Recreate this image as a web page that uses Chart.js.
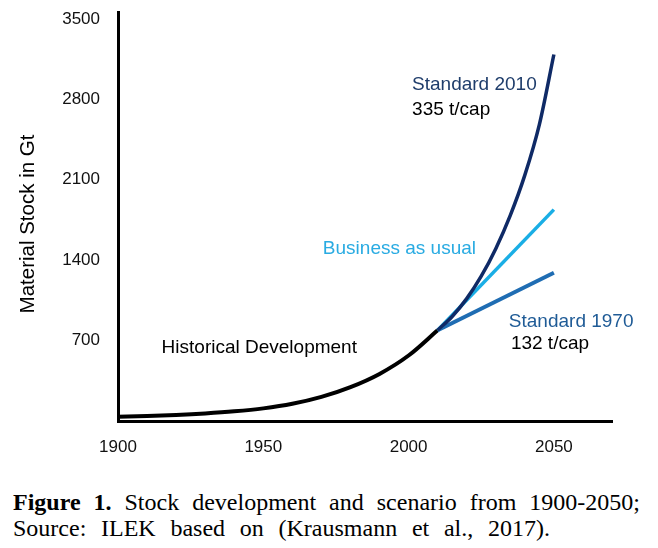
<!DOCTYPE html>
<html>
<head>
<meta charset="utf-8">
<script src="https://cdn.jsdelivr.net/npm/chart.js@4"></script>
<style>
  body { margin: 0; background: #fff; width: 658px; height: 548px; position: relative; overflow: hidden; }
  #wrap { position: absolute; left: 0; top: 0; width: 658px; height: 460px; }
  .cap { position: absolute; left: 13px; font-family: "Liberation Serif", "Times New Roman", serif; font-size: 24px; line-height: 26px; color: #000; text-align: justify; text-align-last: justify; white-space: nowrap; }
  #cap1 { top: 489px; width: 627px; }
  #cap2 { top: 515px; width: 537px; }
</style>
</head>
<body>
<div id="wrap"><canvas id="chart" width="658" height="460"></canvas></div>
<div class="cap" id="cap1"><b>Figure 1.</b> Stock development and scenario from 1900-2050;</div>
<div class="cap" id="cap2">Source: ILEK based on (Krausmann et al., 2017).</div>
<script>
// years / values (Gt)
const histYears = [1900, 1910, 1920, 1930, 1940, 1950, 1960, 1970, 1980, 1990, 2000, 2010];
const histValues = [37, 44, 53, 66, 84, 110, 150, 210, 295, 410, 570, 790];
const std2010Years = [2010, 2015, 2020, 2025, 2030, 2035, 2040, 2045, 2050];
const std2010Values = [790, 910, 1065, 1260, 1500, 1790, 2140, 2580, 3190];
const bauYears = [2010, 2050];
const bauValues = [790, 1840];
const std1970Years = [2010, 2050];
const std1970Values = [790, 1290];
const xTicks = [1900, 1950, 2000, 2050];
const yTicks = [700, 1400, 2100, 2800, 3500];

const toPoints = (xs, ys) => xs.map((x, i) => ({ x: x, y: ys[i] }));

// text labels placed in data units
const notes = [
  { text: "Standard 2010", x: 2001.2, y: 2929, color: "#1f3d6b" },
  { text: "335 t/cap", x: 2001.2, y: 2711, color: "#000" },
  { text: "Business as usual", x: 1970.5, y: 1499, color: "#29abe2" },
  { text: "Historical Development", x: 1915, y: 636, color: "#000" },
  { text: "Standard 1970", x: 2034.5, y: 863, color: "#1f5b96" },
  { text: "132 t/cap", x: 2035.2, y: 671, color: "#000" }
];

const notePlugin = {
  id: "notes",
  afterDatasetsDraw(chart) {
    const ctx = chart.ctx;
    const xs = chart.scales.x, ys = chart.scales.y;
    ctx.save();
    ctx.font = '19px "Liberation Sans", Arial, sans-serif';
    ctx.textAlign = "left";
    ctx.textBaseline = "middle";
    notes.forEach(n => {
      ctx.fillStyle = n.color;
      ctx.fillText(n.text, xs.getPixelForValue(n.x), ys.getPixelForValue(n.y));
    });
    // y axis title
    ctx.translate(28, 224);
    ctx.rotate(-Math.PI / 2);
    ctx.textAlign = "center";
    ctx.fillStyle = "#000";
    ctx.font = '20.5px "Liberation Sans", Arial, sans-serif';
    ctx.fillText("Material Stock in Gt", 0, 0);
    ctx.restore();
  }
};

const tickFont = { family: '"Liberation Sans", Arial, sans-serif', size: 17 };

new Chart(document.getElementById("chart").getContext("2d"), {
  type: "line",
  data: {
    datasets: [
      { label: "Standard 2010", data: toPoints(std2010Years, std2010Values), borderColor: "#0f2a66", borderWidth: 3.5, cubicInterpolationMode: "monotone" },
      { label: "Business as usual", data: toPoints(bauYears, bauValues), borderColor: "#1aaee5", borderWidth: 3.5 },
      { label: "Standard 1970", data: toPoints(std1970Years, std1970Values), borderColor: "#1f6db3", borderWidth: 4 },
      { label: "Historical Development", data: toPoints(histYears, histValues), borderColor: "#000", borderWidth: 4, cubicInterpolationMode: "monotone" }
    ]
  },
  options: {
    responsive: false,
    animation: false,
    layout: { padding: { left: 0, top: 12, right: 46, bottom: 0 } },
    elements: { point: { radius: 0 }, line: { borderCapStyle: "butt" } },
    plugins: { legend: { display: false }, tooltip: { enabled: false } },
    scales: {
      x: {
        type: "linear",
        min: 1900,
        max: 2070,
        afterBuildTicks: s => { s.ticks = xTicks.map(v => ({ value: v })); },
        afterFit: s => { s.height = 39; },
        grid: { display: false },
        border: { display: true, color: "#000", width: 3 },
        ticks: { color: "#111", font: tickFont, padding: 8, maxRotation: 0, callback: v => String(v) }
      },
      y: {
        min: 0,
        max: 3560,
        afterBuildTicks: s => { s.ticks = yTicks.map(v => ({ value: v })); },
        afterFit: s => { s.width = 118; s.paddingTop = 0; s.paddingBottom = 0; },
        grid: { display: false },
        border: { display: true, color: "#000", width: 3 },
        ticks: { color: "#111", font: tickFont, padding: 10, callback: v => String(v) }
      }
    }
  },
  plugins: [notePlugin]
});
</script>
</body>
</html>
